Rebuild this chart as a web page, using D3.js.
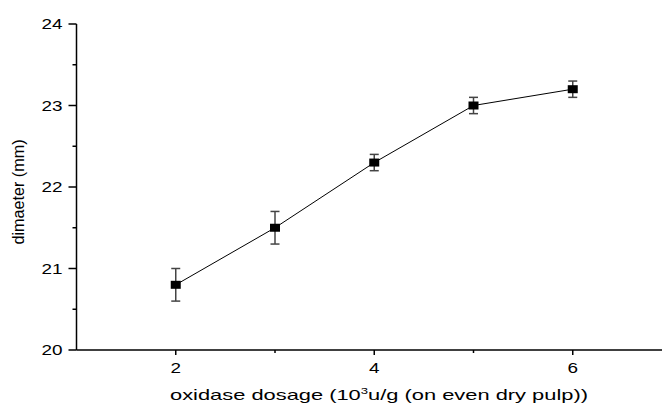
<!DOCTYPE html>
<html>
<head>
<meta charset="utf-8">
<script src="https://cdn.jsdelivr.net/npm/d3@7"></script>
<style>
  body { margin: 0; background: #fff; }
  text { font-family: "Liberation Sans", Arial, sans-serif; fill: #000; }
</style>
</head>
<body>
<script>
    const width = 662, height = 406;

    // data
    const dosage = [2, 3, 4, 5, 6];
    const diameter = [20.8, 21.5, 22.3, 23.0, 23.2];
    const errors = [0.2, 0.2, 0.1, 0.1, 0.1];

    const xTicks = [2, 4, 6];
    const xMinor = [3, 5];
    const yTicks = [20, 21, 22, 23, 24];
    const yMinor = [20.5, 21.5, 22.5, 23.5];

    const stretch = 1.35; // the original text looks horizontally stretched

    const svg = d3.select("body").append("svg")
        .attr("width", width)
        .attr("height", height);

    const x = d3.scaleLinear().domain([1, 7]).range([76.5, 672]);
    const y = d3.scaleLinear().domain([20, 24]).range([350, 24]);

    function widen(sel, target) {
        sel.each(function () {
            const w = target || this.getComputedTextLength() * stretch;
            d3.select(this).attr("textLength", w).attr("lengthAdjust", "spacingAndGlyphs");
        });
    }

    // x axis
    const xAxis = svg.append("g").attr("transform", `translate(0,${y(20)})`);
    xAxis.append("line")
        .attr("x1", x(1)).attr("x2", width)
        .attr("stroke", "#000").attr("stroke-width", 1.5);
    xAxis.selectAll(".maj").data(xTicks).join("line")
        .attr("x1", d => x(d)).attr("x2", d => x(d))
        .attr("y1", 0).attr("y2", 5)
        .attr("stroke", "#000").attr("stroke-width", 1.5);
    xAxis.selectAll(".min").data(xMinor).join("line")
        .attr("x1", d => x(d)).attr("x2", d => x(d))
        .attr("y1", 0).attr("y2", 3)
        .attr("stroke", "#000").attr("stroke-width", 1.5);
    xAxis.selectAll("text").data(xTicks).join("text")
        .attr("x", d => x(d)).attr("y", 23)
        .attr("text-anchor", "middle")
        .style("font-size", "14px")
        .text(d => d)
        .call(widen);

    // y axis
    const yAxis = svg.append("g").attr("transform", `translate(${x(1)},0)`);
    yAxis.append("line")
        .attr("y1", y(20)).attr("y2", y(24))
        .attr("stroke", "#000").attr("stroke-width", 1.5);
    yAxis.selectAll(".maj").data(yTicks).join("line")
        .attr("x1", -8).attr("x2", 0)
        .attr("y1", d => y(d)).attr("y2", d => y(d))
        .attr("stroke", "#000").attr("stroke-width", 1.5);
    yAxis.selectAll(".min").data(yMinor).join("line")
        .attr("x1", -4).attr("x2", 0)
        .attr("y1", d => y(d)).attr("y2", d => y(d))
        .attr("stroke", "#000").attr("stroke-width", 1.5);
    yAxis.selectAll("text").data(yTicks).join("text")
        .attr("x", -14).attr("y", d => y(d) + 5)
        .attr("text-anchor", "end")
        .style("font-size", "14px")
        .text(d => d)
        .call(widen);

    // axis titles
    const xt = svg.append("text")
        .attr("x", 379).attr("y", 400)
        .attr("text-anchor", "middle")
        .style("font-size", "15px");
    xt.append("tspan").text("oxidase dosage (10");
    xt.append("tspan").attr("dy", -6).style("font-size", "9px").text("3");
    xt.append("tspan").attr("dy", 6).text("u/g (on even dry pulp))");
    widen(xt, 418);

    const yt = svg.append("text")
        .attr("transform", `translate(24,192) rotate(-90)`)
        .attr("text-anchor", "middle")
        .style("font-size", "16px")
        .text("dimaeter (mm)");
    widen(yt, 105);

    // line
    const pts = dosage.map((d, i) => [d, diameter[i], errors[i]]);
    svg.append("path")
        .datum(pts)
        .attr("fill", "none")
        .attr("stroke", "#000")
        .attr("stroke-width", 1)
        .attr("d", d3.line().x(d => x(d[0])).y(d => y(d[1])));

    // error bars
    const eb = svg.selectAll(".eb").data(pts).join("g").attr("class", "eb");
    eb.append("line")
        .attr("x1", d => x(d[0])).attr("x2", d => x(d[0]))
        .attr("y1", d => y(d[1] - d[2])).attr("y2", d => y(d[1] + d[2]))
        .attr("stroke", "#444").attr("stroke-width", 1.5);
    eb.selectAll(".cap").data(d => [[d[0], d[1] - d[2]], [d[0], d[1] + d[2]]]).join("line")
        .attr("x1", d => x(d[0]) - 4.5).attr("x2", d => x(d[0]) + 4.5)
        .attr("y1", d => y(d[1])).attr("y2", d => y(d[1]))
        .attr("stroke", "#444").attr("stroke-width", 1.5);

    // markers
    svg.selectAll(".mk").data(pts).join("rect")
        .attr("x", d => x(d[0]) - 5).attr("y", d => y(d[1]) - 4)
        .attr("width", 10).attr("height", 8)
        .attr("fill", "#000");
</script>
</body>
</html>
